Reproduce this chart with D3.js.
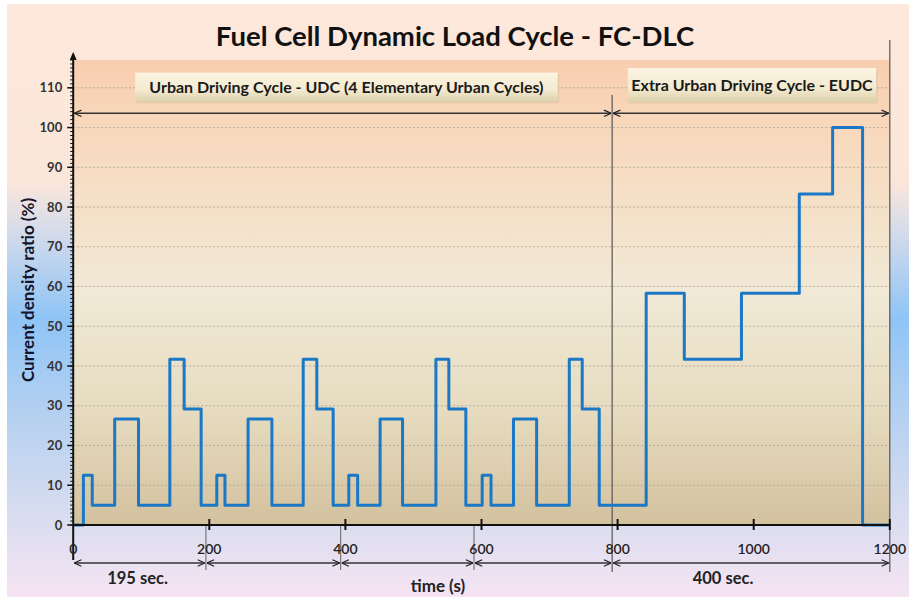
<!DOCTYPE html>
<html>
<head>
<meta charset="utf-8">
<script src="https://cdn.jsdelivr.net/npm/d3@7"></script>
<style>
  body { margin: 0; background: #fff; }
  text { font-family: Lato, "Open Sans", sans-serif; }
</style>
</head>
<body>
<div id="chart"></div>
<script>
// basic dimensions
var width = 909;
var height = 597;

// DATA
// step times (s) and current density ratio (%) held from each time on
var stepTimes = [0, 15, 28, 61, 96, 142, 163, 188, 211, 223, 257, 292, 338, 358, 382,
    405, 418, 451, 484, 533, 552, 577, 601, 614, 647, 681, 729, 748, 773,
    842, 898, 982, 1067, 1116, 1160, 1200];
var stepValues = [0, 12.5, 5, 26.7, 5, 41.7, 29.2, 5, 12.5, 5, 26.7, 5, 41.7, 29.2, 5,
    12.5, 5, 26.7, 5, 41.7, 29.2, 5, 12.5, 5, 26.7, 5, 41.7, 29.2, 5,
    58.3, 41.7, 58.3, 83.3, 100, 0, 0];

// cycle boundaries (s)
var cycleBounds = [0, 195, 393, 589, 792, 1200];
var xTicks = [0, 200, 400, 600, 800, 1000, 1200];
var yTicks = [0, 10, 20, 30, 40, 50, 60, 70, 80, 90, 100, 110];

var titleText = "Fuel Cell Dynamic Load Cycle - FC-DLC";
var udcLabel = "Urban Driving Cycle - UDC (4 Elementary Urban Cycles)";
var eudcLabel = "Extra Urban Driving Cycle - EUDC";
var udcSpan = "195 sec.";
var eudcSpan = "400 sec.";

var points = stepTimes.map(function(t, i) {
    return { t: t, v: stepValues[i] };
});

// SCALES
var xScale = d3.scaleLinear().domain([0, 1200]).range([73.2, 889.8]);
var yScale = d3.scaleLinear().domain([0, 117]).range([525, 60]);

var svg = d3.select("#chart").append("svg")
    .attr("width", width)
    .attr("height", height);

var defs = svg.append("defs");

// outer background gradient
var bg = defs.append("linearGradient").attr("id", "bgGrad")
    .attr("x1", 0).attr("y1", 0).attr("x2", 0).attr("y2", 1);
[[0, "#fde8db"], [0.3, "#fbe6da"], [0.38, "#d6dcea"], [0.53, "#8fc4f6"],
 [0.7, "#b6d1f0"], [0.88, "#dcdef0"], [1, "#f6e4f3"]].forEach(function(s) {
    bg.append("stop").attr("offset", s[0]).attr("stop-color", s[1]);
});

// plot area gradient
var pg = defs.append("linearGradient").attr("id", "plotGrad")
    .attr("x1", 0).attr("y1", 0).attr("x2", 0).attr("y2", 1);
[[0, "#f9ceb0"], [0.2, "#f7dbc0"], [0.5, "#f1e9d6"], [0.75, "#e7dcc0"], [1, "#d3c19e"]].forEach(function(s) {
    pg.append("stop").attr("offset", s[0]).attr("stop-color", s[1]);
});

// label box gradient
var lg = defs.append("linearGradient").attr("id", "boxGrad")
    .attr("x1", 0).attr("y1", 0).attr("x2", 0).attr("y2", 1);
[[0, "#fcf3e2"], [0.6, "#f3ead0"], [1, "#ddd1ab"]].forEach(function(s) {
    lg.append("stop").attr("offset", s[0]).attr("stop-color", s[1]);
});

// open arrowhead
defs.append("marker").attr("id", "arrow")
    .attr("viewBox", "0 0 10 10").attr("refX", 10).attr("refY", 5)
    .attr("markerWidth", 8).attr("markerHeight", 8)
    .attr("markerUnits", "userSpaceOnUse")
    .attr("orient", "auto-start-reverse")
    .append("path").attr("d", "M1,1L10,5L1,9")
    .attr("fill", "none").attr("stroke", "#222").attr("stroke-width", 1.5);

svg.append("rect").attr("x", 7).attr("y", 4)
    .attr("width", width - 7).attr("height", height - 4)
    .attr("fill", "url(#bgGrad)");

svg.append("rect")
    .attr("x", xScale(0)).attr("y", yScale(117))
    .attr("width", xScale(1200) - xScale(0))
    .attr("height", yScale(0) - yScale(117))
    .attr("fill", "url(#plotGrad)");

// title
svg.append("text")
    .attr("x", 455).attr("y", 46)
    .attr("text-anchor", "middle")
    .style("font-size", "27.5px").style("font-weight", "bold")
    .attr("fill", "#111")
    .text(titleText);

// grid
svg.append("g").selectAll("line").data(yTicks.slice(1))
    .enter().append("line")
    .attr("x1", xScale(0)).attr("x2", xScale(1200))
    .attr("y1", function(d) { return yScale(d); })
    .attr("y2", function(d) { return yScale(d); })
    .attr("stroke", "#b5ac9c").attr("stroke-width", 1)
    .attr("stroke-dasharray", "2,2");

// cycle divider lines
svg.append("line")
    .attr("x1", xScale(cycleBounds[4])).attr("x2", xScale(cycleBounds[4]))
    .attr("y1", 95).attr("y2", 572)
    .attr("stroke", "#555").attr("stroke-width", 1.2);
svg.append("line")
    .attr("x1", xScale(1200)).attr("x2", xScale(1200))
    .attr("y1", 40).attr("y2", 572)
    .attr("stroke", "#555").attr("stroke-width", 1.2);
svg.append("g").selectAll("line").data(cycleBounds.slice(1, 4))
    .enter().append("line")
    .attr("x1", function(d) { return xScale(d); })
    .attr("x2", function(d) { return xScale(d); })
    .attr("y1", yScale(0)).attr("y2", 570)
    .attr("stroke", "#777").attr("stroke-width", 1.2);

// step line
var lineGen = d3.line()
    .curve(d3.curveStepAfter)
    .x(function(d) { return xScale(d.t); })
    .y(function(d) { return yScale(d.v); });

svg.append("path")
    .datum(points)
    .attr("d", lineGen)
    .attr("fill", "none")
    .attr("stroke", "#1b78c6")
    .attr("stroke-width", 3)
    .attr("stroke-linejoin", "round");

// y axis
var yAxisG = svg.append("g")
    .attr("transform", "translate(" + xScale(0) + ",0)");
yAxisG.selectAll(".minor").data(d3.range(0, 118))
    .enter().append("line")
    .attr("x1", -3).attr("x2", 0)
    .attr("y1", function(d) { return yScale(d); })
    .attr("y2", function(d) { return yScale(d); })
    .attr("stroke", "#111").attr("stroke-width", 1);
yAxisG.selectAll(".major").data(yTicks)
    .enter().append("line")
    .attr("x1", -6).attr("x2", 0)
    .attr("y1", function(d) { return yScale(d); })
    .attr("y2", function(d) { return yScale(d); })
    .attr("stroke", "#111").attr("stroke-width", 1.5);
yAxisG.append("line")
    .attr("x1", 0).attr("x2", 0)
    .attr("y1", 54).attr("y2", 560)
    .attr("stroke", "#111").attr("stroke-width", 2);
yAxisG.append("path")
    .attr("d", "M-3.5,60L0,52L3.5,60Z")
    .attr("fill", "#111");
yAxisG.selectAll(".lbl").data(yTicks)
    .enter().append("text")
    .attr("x", -11)
    .attr("y", function(d) { return yScale(d); })
    .attr("dy", "0.35em")
    .attr("text-anchor", "end")
    .style("font-size", "13px").style("font-weight", "bold")
    .attr("fill", "#333")
    .text(function(d) { return d; });

svg.append("text")
    .attr("transform", "translate(34,290) rotate(-90)")
    .attr("text-anchor", "middle")
    .style("font-size", "17px").style("font-weight", "bold")
    .attr("fill", "#14142a")
    .text("Current density ratio (%)");

// x axis
var xAxisG = svg.append("g");
xAxisG.append("line")
    .attr("x1", xScale(0)).attr("x2", xScale(1200))
    .attr("y1", yScale(0)).attr("y2", yScale(0))
    .attr("stroke", "#111").attr("stroke-width", 2);
xAxisG.selectAll(".tick").data(xTicks.slice(1))
    .enter().append("line")
    .attr("x1", function(d) { return xScale(d); })
    .attr("x2", function(d) { return xScale(d); })
    .attr("y1", yScale(0) - 6).attr("y2", yScale(0) + 5)
    .attr("stroke", "#111").attr("stroke-width", 2);
xAxisG.selectAll(".lbl").data(xTicks)
    .enter().append("text")
    .attr("x", function(d) { return xScale(d); })
    .attr("y", 554)
    .attr("text-anchor", "middle")
    .style("font-size", "14px").style("font-weight", "600")
    .attr("fill", "#222")
    .text(function(d) { return d; });

svg.append("text")
    .attr("x", 438).attr("y", 592)
    .attr("text-anchor", "middle")
    .style("font-size", "17px").style("font-weight", "bold")
    .attr("fill", "#222")
    .text("time (s)");

// bottom span arrows
var spanY = 563;
svg.append("g").selectAll("line").data(d3.pairs(cycleBounds))
    .enter().append("line")
    .attr("x1", function(d) { return xScale(d[0]) + 1; })
    .attr("x2", function(d) { return xScale(d[1]) - 1; })
    .attr("y1", spanY).attr("y2", spanY)
    .attr("stroke", "#333").attr("stroke-width", 1.3)
    .attr("marker-start", "url(#arrow)")
    .attr("marker-end", "url(#arrow)");

svg.append("text")
    .attr("x", (xScale(cycleBounds[0]) + xScale(cycleBounds[1])) / 2 - 2).attr("y", 584)
    .attr("text-anchor", "middle")
    .style("font-size", "16.5px").style("font-weight", "bold")
    .attr("fill", "#222")
    .text(udcSpan);
svg.append("text")
    .attr("x", xScale(955)).attr("y", 584)
    .attr("text-anchor", "middle")
    .style("font-size", "16.5px").style("font-weight", "bold")
    .attr("fill", "#222")
    .text(eudcSpan);

// top cycle arrows
var topY = 113.3;
svg.append("g").selectAll("line")
    .data([[cycleBounds[0], cycleBounds[4]], [cycleBounds[4], cycleBounds[5]]])
    .enter().append("line")
    .attr("x1", function(d) { return xScale(d[0]) + 1; })
    .attr("x2", function(d) { return xScale(d[1]) - 1; })
    .attr("y1", topY).attr("y2", topY)
    .attr("stroke", "#333").attr("stroke-width", 1.5)
    .attr("marker-start", "url(#arrow)")
    .attr("marker-end", "url(#arrow)");

// label boxes
function labelBox(x0, x1, y0, y1, txt) {
    svg.append("rect")
        .attr("x", xScale(x0) + 1.5).attr("y", y0 + 1.5)
        .attr("width", xScale(x1) - xScale(x0)).attr("height", y1 - y0)
        .attr("fill", "#c8b48c").attr("opacity", 0.35);
    svg.append("rect")
        .attr("x", xScale(x0)).attr("y", y0)
        .attr("width", xScale(x1) - xScale(x0)).attr("height", y1 - y0)
        .attr("fill", "url(#boxGrad)");
    svg.append("text")
        .attr("x", (xScale(x0) + xScale(x1)) / 2)
        .attr("y", (y0 + y1) / 2)
        .attr("dy", "0.35em")
        .attr("text-anchor", "middle")
        .style("font-size", "16px").style("font-weight", "bold")
        .attr("fill", "#1a1a1a")
        .text(txt);
}
labelBox(91, 712, 72.7, 101.7, udcLabel);
labelBox(815, 1180, 68, 102, eudcLabel);
</script>
</body>
</html>
